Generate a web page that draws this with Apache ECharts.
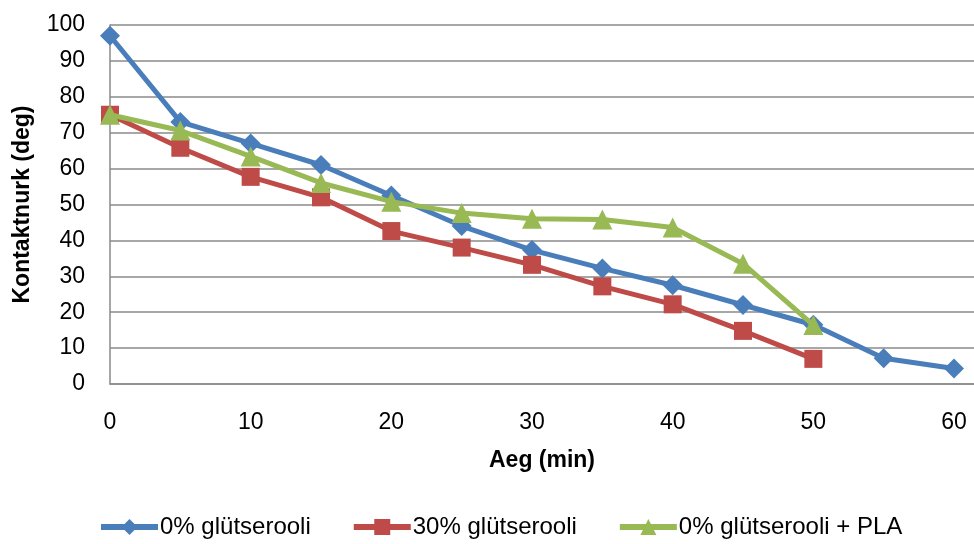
<!DOCTYPE html>
<html>
<head>
<meta charset="utf-8">
<script src="https://cdn.jsdelivr.net/npm/echarts@6/dist/echarts.min.js"></script>
<style>
  html, body { margin: 0; padding: 0; background: #ffffff; }
  #chart { width: 974px; height: 544px; }
</style>
</head>
<body>
<div id="chart"></div>
<script>
// Contact angle over time for three film compositions
const timeMin = [0, 5, 10, 15, 20, 25, 30, 35, 40, 45, 50, 55, 60];
const seriesNames = ['0% glütserooli', '30% glütserooli', '0% glütserooli + PLA'];
const glycerol0 = [97, 73, 67, 61, 52.5, 44, 37.3, 32.2, 27.5, 22, 16.5, 7.2, 4.3];
const glycerol30 = [75, 65.8, 57.7, 52, 42.6, 38, 33.2, 27.2, 22.2, 14.8, 7];
const glycerol0Pla = [75, 70.6, 63.4, 56, 50.8, 47.6, 46, 45.8, 43.6, 33.5, 16.4];
const xTicks = [0, 10, 20, 30, 40, 50, 60];
const yTicks = [0, 10, 20, 30, 40, 50, 60, 70, 80, 90, 100];

const fontFamily = '"Liberation Sans", Arial, sans-serif';
const gridGray = '#8a8a8a';

function pairs(values) {
  return values.map((v, i) => [timeMin[i], v]);
}

const chart = echarts.init(document.getElementById('chart'), null, { renderer: 'canvas' });

const styles = [
  { color: '#4A7EBB', symbol: 'diamond', size: 20 },
  { color: '#BE4B48', symbol: 'rect', size: 18 },
  { color: '#98B954', symbol: 'triangle', size: 20 }
];
const seriesData = [glycerol0, glycerol30, glycerol0Pla];

chart.setOption({
  animation: false,
  backgroundColor: '#ffffff',
  textStyle: { fontFamily: fontFamily },
  grid: { left: 110, right: 0, top: 25, bottom: 160, containLabel: false },
  legend: {
    bottom: 0,
    left: 93,
    itemWidth: 57,
    itemHeight: 20,
    itemGap: 40,
    lineStyle: { width: 6 },
    textStyle: { fontSize: 24, color: '#000000', fontFamily: fontFamily, padding: [0, 0, 0, -3] },
    data: seriesNames
  },
  xAxis: {
    type: 'value',
    min: 0,
    max: 61.42,
    interval: 10,
    name: 'Aeg (min)',
    nameLocation: 'middle',
    nameGap: 65,
    nameTextStyle: { fontSize: 23, fontWeight: 'bold', color: '#000000' },
    axisLine: { show: true, lineStyle: { color: gridGray, width: 1.5 } },
    axisTick: { show: false },
    splitLine: { show: false },
    axisLabel: {
      fontSize: 23,
      color: '#000000',
      margin: 27,
      showMaxLabel: false,
      formatter: function (v) { return xTicks.indexOf(v) >= 0 ? String(v) : ''; }
    }
  },
  yAxis: {
    type: 'value',
    min: yTicks[0],
    max: yTicks[yTicks.length - 1],
    interval: 10,
    name: 'Kontaktnurk (deg)',
    nameLocation: 'middle',
    nameGap: 76,
    nameTextStyle: { fontSize: 23, fontWeight: 'bold', color: '#000000' },
    axisLine: { show: true, lineStyle: { color: gridGray, width: 1.5 } },
    axisTick: { show: false },
    splitLine: { show: true, lineStyle: { color: gridGray, width: 1.5 } },
    axisLabel: { fontSize: 23, color: '#000000', margin: 25 }
  },
  series: seriesData.map((vals, i) => ({
    name: seriesNames[i],
    type: 'line',
    data: pairs(vals),
    symbol: styles[i].symbol,
    symbolSize: styles[i].size,
    showAllSymbol: true,
    lineStyle: { color: styles[i].color, width: 5 },
    itemStyle: { color: styles[i].color },
    z: 2 + i
  }))
});
</script>
</body>
</html>
